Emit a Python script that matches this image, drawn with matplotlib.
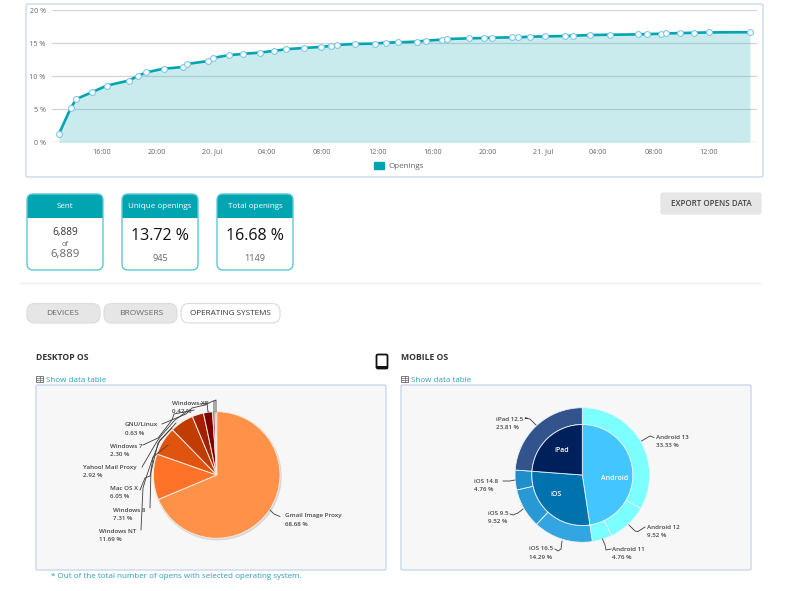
"""Opens report: openings curve, stat cards and the two operating system pies."""
from __future__ import annotations

import matplotlib as mpl
import matplotlib.pyplot as plt
from matplotlib.patches import Circle, FancyBboxPatch, Patch, Rectangle


# ---------------------------------------------------------------------------
# palette
# ---------------------------------------------------------------------------

COLORS = {
    "teal":       "#00a5b1",
    "teal_line":  "#5ccad3",
    "marker":     "#7cc8e8",
    "text":       "#333333",
    "muted":      "#666666",
    "link":       "#2a9fb5",
    "grid":       "#d4d4d4",
    "frame":      "#c5d3e8",
    "panel":      "#f7f7f7",
    "button":     "#e6e6e6",
    "bg":         "#ffffff",
}

# ---------------------------------------------------------------------------
# data
# ---------------------------------------------------------------------------

# hours counted from midnight of 19. Jul
open_hours = [12.93, 13.78, 14.19, 15.32, 16.41, 17.98, 18.66, 19.26, 20.52, 21.89,
              22.21, 23.71, 24.12, 25.25, 26.29, 27.52, 28.51, 29.38, 30.71, 31.92,
              32.62, 33.10, 34.36, 35.81, 36.60, 37.52, 38.85, 39.50, 40.66, 41.05,
              42.64, 43.71, 44.33, 45.78, 46.17, 47.09, 48.13, 49.60, 50.18, 51.39,
              52.89, 54.89, 55.54, 56.56, 56.95, 57.96, 58.98, 60.06, 63.00]
open_pct = [1.26, 5.15, 6.56, 7.58, 8.60, 9.34, 10.05, 10.60, 11.15, 11.40,
            11.87, 12.30, 12.80, 13.20, 13.40, 13.60, 13.85, 14.10, 14.30, 14.45,
            14.60, 14.75, 14.90, 14.95, 15.10, 15.15, 15.25, 15.40, 15.55, 15.65,
            15.75, 15.80, 15.85, 15.90, 15.90, 16.00, 16.05, 16.10, 16.15, 16.25,
            16.30, 16.35, 16.40, 16.45, 16.50, 16.55, 16.60, 16.65, 16.68]
hour_ticks = [16, 20, 24, 28, 32, 36, 40, 44, 48, 52, 56, 60]
hour_labels = ["16:00", "20:00", "20. Jul", "04:00", "08:00", "12:00",
               "16:00", "20:00", "21. Jul", "04:00", "08:00", "12:00"]
pct_ticks = [0, 5, 10, 15, 20]

desktop_names = ["Gmail Image Proxy", "Windows NT", "Windows 8", "Mac OS X",
                 "Yahoo! Mail Proxy", "Windows 7", "GNU/Linux", "Windows XP"]
desktop_values = [68.68, 11.69, 7.31, 6.05, 2.92, 2.30, 0.63, 0.42]
desktop_colors = ["#ff9248", "#ff7329", "#e0540f", "#c13c00",
                  "#a32000", "#7f0000", "#a06060", "#c09090"]

mobile_groups = ["Android", "iOS", "iPad"]
mobile_group_values = [47.62, 28.57, 23.81]
mobile_group_colors = ["#43c6ff", "#0073ae", "#00205c"]
mobile_names = ["Android 13", "Android 12", "Android 11", "iOS 16.5",
                "iOS 9.5", "iOS 14.8", "iPad 12.5"]
mobile_values = [33.33, 9.52, 4.76, 14.29, 9.52, 4.76, 23.81]
mobile_colors = ["#7bffff", "#7bffff", "#7bffff", "#33a6e1",
                 "#2999d5", "#1f8fcb", "#33538c"]


# ---------------------------------------------------------------------------
# rcParams
# ---------------------------------------------------------------------------

def _build_rc() -> dict:
    return {
        "figure.facecolor":     COLORS["bg"],
        "figure.dpi":           100,
        "savefig.dpi":          100,
        "axes.facecolor":       "none",
        "axes.axisbelow":       True,
        "axes.spines.top":      False,
        "axes.spines.right":    False,
        "axes.spines.left":     False,
        "axes.spines.bottom":   False,
        "xtick.color":          COLORS["muted"],
        "ytick.color":          COLORS["muted"],
        "xtick.labelsize":      5.2,
        "ytick.labelsize":      5.2,
        "grid.color":           COLORS["grid"],
        "grid.linewidth":       0.9,
        "text.color":           COLORS["text"],
        "font.family":          ["Open Sans", "DejaVu Sans"],
        "font.size":            5.5,
    }


# ---------------------------------------------------------------------------
# helpers
# ---------------------------------------------------------------------------

def axes_px(fig, left, top, right, bottom):
    """Axes placed by pixel edges of the 786x591 canvas."""
    return fig.add_axes([left / 786, 1 - bottom / 591, (right - left) / 786, (bottom - top) / 591])


def box(ax, left, top, right, bottom, face, edge, radius=3, lw=0.9, zorder=1):
    """Rounded box in canvas pixels."""
    patch = FancyBboxPatch((left + radius, top + radius), right - left - 2 * radius,
                           bottom - top - 2 * radius,
                           boxstyle=f"round,pad={radius},rounding_size={radius}",
                           fc=face, ec=edge, lw=lw, zorder=zorder)
    ax.add_patch(patch)
    return patch


def stat_card(ax, left, title):
    """Card with the teal head strip."""
    card = box(ax, left, 194, left + 76, 270, COLORS["bg"], "none", radius=6)
    head = Rectangle((left, 194), 76, 24, fc=COLORS["teal"], ec="none", zorder=2)
    ax.add_patch(head)
    head.set_clip_path(card)
    box(ax, left, 194, left + 76, 270, "none", COLORS["teal_line"], radius=6, lw=1.0, zorder=3)
    ax.text(left + 38, 206, title, color="white", fontsize=5.8, ha="center", va="center", zorder=5)


def table_icon(ax, left, top):
    """Small grid sign in front of the data table link."""
    ax.add_patch(Rectangle((left, top), 7, 6, fc="none", ec=COLORS["muted"], lw=0.6))
    ax.plot([left, left + 7], [top + 2, top + 2], color=COLORS["muted"], lw=0.5)
    ax.plot([left, left + 7], [top + 4, top + 4], color=COLORS["muted"], lw=0.5)
    ax.plot([left + 3.5, left + 3.5], [top, top + 6], color=COLORS["muted"], lw=0.5)


def pie_label(ax, x, y, name, value):
    """Two line slice label, top left corner at x, y."""
    ax.text(x, y, name, fontsize=4.5, weight="semibold", color="#444444", va="center", zorder=8)
    ax.text(x, y + 8.3, f"{value:.2f} %", fontsize=4.5, weight="semibold", color="#444444", va="center", zorder=8)


mpl.rcParams.update(_build_rc())
fig = plt.figure(figsize=(7.86, 5.91))

# ---------------------------------------------------------------------------
# page furniture, all in canvas pixels
# ---------------------------------------------------------------------------

page = fig.add_axes([0, 0, 1, 1], zorder=0)
page.set_xlim(0, 786)
page.set_ylim(591, 0)
page.axis("off")

box(page, 26, 4, 763, 177, COLORS["bg"], COLORS["frame"], radius=2)

stat_card(page, 27, "Sent")
stat_card(page, 122, "Unique openings")
stat_card(page, 217, "Total openings")
page.text(65, 232, "6,889", fontsize=7.2, ha="center", va="center", zorder=5)
page.text(65, 244, "of", fontsize=5.5, color=COLORS["muted"], ha="center", va="center", zorder=5)
page.text(65, 254.5, "6,889", fontsize=8.2, color=COLORS["muted"], ha="center", va="center", zorder=5)
page.text(160, 235.5, "13.72 %", fontsize=11.5, color="#111111",
          ha="center", va="center", zorder=5)
page.text(160, 258.5, "945", fontsize=6.6, color=COLORS["muted"], ha="center", va="center", zorder=5)
page.text(255, 235.5, "16.68 %", fontsize=11.5, color="#111111",
          ha="center", va="center", zorder=5)
page.text(255, 258.5, "1149", fontsize=6.6, color=COLORS["muted"], ha="center", va="center", zorder=5)

box(page, 661, 193, 761, 214, COLORS["button"], COLORS["button"], radius=2)
page.text(711, 204, "EXPORT OPENS DATA", fontsize=5.8, weight="semibold", color="#444444",
          ha="center", va="center", zorder=5)

page.plot([20, 760], [282.5, 282.5], color="#eeeeee", lw=0.9)

box(page, 27, 303.5, 100, 323, COLORS["button"], "#dddddd", radius=8)
box(page, 104, 303.5, 177, 323, COLORS["button"], "#dddddd", radius=8)
box(page, 181, 303.5, 280, 323, COLORS["bg"], "#dddddd", radius=8)
page.text(63, 313.5, "DEVICES", fontsize=6.0, color=COLORS["muted"], ha="center", va="center", zorder=5)
page.text(141, 313.5, "BROWSERS", fontsize=6.0, color=COLORS["muted"], ha="center", va="center", zorder=5)
page.text(230.5, 313.5, "OPERATING SYSTEMS", fontsize=5.9, color=COLORS["text"],
          ha="center", va="center", zorder=5)

page.text(36, 358, "DESKTOP OS", fontsize=6.2, weight="bold", va="center")
page.text(401, 358, "MOBILE OS", fontsize=6.2, weight="bold", va="center")
box(page, 376.5, 354.5, 387.5, 368.5, "none", "#111111", radius=1.5, lw=1.3)
page.add_patch(Rectangle((376.5, 366), 11, 2.5, fc="#111111", ec="none"))

table_icon(page, 36, 376)
table_icon(page, 401, 376)
page.text(45.5, 380, "Show data table", fontsize=5.8, color=COLORS["link"], va="center")
page.text(411, 380, "Show data table", fontsize=5.8, color=COLORS["link"], va="center")

box(page, 36, 385, 386, 570, COLORS["panel"], COLORS["frame"], radius=1.5)
box(page, 401, 385, 751, 570, COLORS["panel"], COLORS["frame"], radius=1.5)
page.text(51, 576.5, "* Out of the total number of opens with selected operating system.",
          fontsize=5.8, color=COLORS["link"], va="center")

# ---------------------------------------------------------------------------
# openings curve
# ---------------------------------------------------------------------------

ax = axes_px(fig, 52, 10.3, 757, 142.3)
ax.fill_between(open_hours, open_pct, color=COLORS["teal"], alpha=0.21, lw=0)
ax.plot(open_hours, open_pct, color=COLORS["teal"], lw=1.9, marker="o", ms=4.2,
        mfc="white", mec=COLORS["marker"], mew=0.8, clip_on=False)
ax.set_xlim(12.43, 63.51)
ax.set_ylim(0, 20)
ax.set_xticks(hour_ticks, hour_labels)
ax.set_yticks(pct_ticks, [f"{p} %" for p in pct_ticks])
ax.tick_params(length=0, pad=4.5)
ax.grid(axis="y")
ax.axhline(0, color=COLORS["frame"], lw=0.8)
ax.legend(handles=[Patch(color=COLORS["teal"], label="Openings")], loc="center",
          bbox_to_anchor=(0.492, -0.18), frameon=False, fontsize=5.8, handlelength=1.3,
          handleheight=1.0, labelcolor=COLORS["muted"], handletextpad=0.5)

# ---------------------------------------------------------------------------
# desktop pie
# ---------------------------------------------------------------------------

page.add_patch(Circle((217.5, 476.2), 64.2, fc="#d8d8d8", ec="none", zorder=2))
ax = axes_px(fig, 153.4, 411.7, 280, 538.3)
ax.pie(desktop_values, colors=desktop_colors, startangle=90, counterclock=False, radius=1,
       wedgeprops={"ec": "#f6e8e0", "lw": 0.7})
ax.set_xlim(-1, 1)
ax.set_ylim(-1, 1)

top = axes_px(fig, 0, 0, 786, 591)
top.set_xlim(0, 786)
top.set_ylim(591, 0)
top.axis("off")
top.set_zorder(5)

desktop_label_xy = [(285, 516), (99, 531.5), (113, 510), (110, 488.5),
                    (83, 467.5), (110, 446), (125, 425), (172, 403.5)]
for (x, y), name, value in zip(desktop_label_xy, desktop_names, desktop_values):
    pie_label(top, x, y, name, value)

# connectors of the small slices bunch up at the upper left of the pie
desktop_connectors = [
    ([270, 274, 280], [510, 514, 516.5]),
    ([141, 143, 146, 153, 168], [530, 488, 478, 457, 445]),
    ([150, 151, 153, 160, 172], [508, 470, 458, 440, 428]),
    ([140, 145, 150, 158, 176], [490, 478, 476, 443, 423]),
    ([142, 156, 160, 175, 186], [467, 443, 437, 420, 412]),
    ([143, 158, 172, 174, 194], [445, 438, 420, 414, 410]),
    ([162, 186, 192, 205], [424, 414, 408, 405]),
    ([200, 207, 208, 209], [404, 403, 412, 412]),
    ([205, 213, 214, 214], [405, 401, 401, 412]),
    ([214, 216, 216, 216], [401, 400, 401, 412]),
]
for xs, ys in desktop_connectors:
    top.plot(xs, ys, color="#3c3c3c", lw=0.6, zorder=7)

# ---------------------------------------------------------------------------
# mobile double ring
# ---------------------------------------------------------------------------

ax = axes_px(fig, 515, 407.7, 649.6, 542.3)
ax.pie(mobile_values, colors=mobile_colors, startangle=90, counterclock=False, radius=1.0,
       wedgeprops={"ec": "#e8f4f8", "lw": 0.6, "width": 0.25})
ax.pie(mobile_group_values, colors=mobile_group_colors, startangle=90, counterclock=False,
       radius=0.75, wedgeprops={"ec": "#e8f4f8", "lw": 0.6})
ax.set_xlim(-1, 1)
ax.set_ylim(-1, 1)

for x, y, name in zip([615, 556.5, 562], [478.5, 494.5, 451], mobile_groups):
    top.text(x, y, name, fontsize=5.0, weight="semibold", color="white", ha="center", va="center", zorder=8)

mobile_label_xy = [(656.5, 437.5), (647, 527.5), (612.5, 549.5), (529, 549),
                   (488, 513.5), (474, 481.5), (496, 419.5)]
for (x, y), name, value in zip(mobile_label_xy, mobile_names, mobile_values):
    pie_label(top, x, y, name, value)

mobile_connectors = [
    ([641.5, 650, 654], [441, 436, 437.5]),
    ([629, 635, 638, 645], [525, 531, 531.5, 527]),
    ([602.5, 605, 606, 611], [539, 545, 550, 549]),
    ([562, 561, 558, 555], [541, 549, 551, 549]),
    ([523, 518, 513, 510], [509, 513, 515, 514]),
    ([515, 510, 503], [480, 481, 481]),
    ([536, 530, 525, 527], [425, 419, 418, 418]),
]
for xs, ys in mobile_connectors:
    top.plot(xs, ys, color="#3c3c3c", lw=0.6, zorder=7)

fig.savefig("out.png", dpi=100)
